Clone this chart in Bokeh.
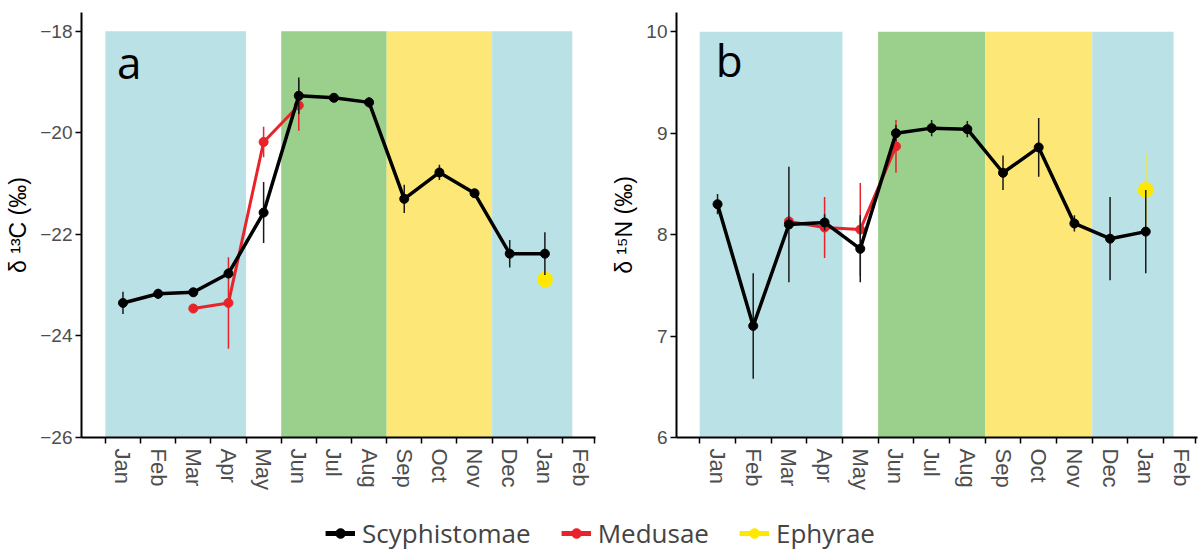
import numpy as np
from bokeh.plotting import figure
from bokeh.layouts import column, row
from bokeh.models import (Range1d, FixedTicker, CustomJSTickFormatter, Legend, LegendItem,
                          ColumnDataSource)
from bokeh.core.properties import value
from bokeh.embed import file_html
from bokeh.resources import INLINE

# ---------------- data ----------------
months = ["Jan", "Feb", "Mar", "Apr", "May", "Jun", "Jul", "Aug", "Sep", "Oct", "Nov", "Dec", "Jan", "Feb"]

# season shading (month boundaries)
season_left = [0, 5, 8, 11]
season_right = [4, 8, 11, 13.28]
season_colors = ["#B9E1E6", "#9ACF8C", "#FDE776", "#B9E1E6"]

# month index of each sample
scy_month = [0, 1, 2, 3, 4, 5, 6, 7, 8, 9, 10, 11, 12]
med_month = [2, 3, 4, 5]
eph_month = [12]

# panel a: d13C
scy_c = [-23.35, -23.17, -23.14, -22.77, -21.57, -19.27, -19.31, -19.40, -21.30, -20.78, -21.19, -22.38, -22.38]
scy_c_err = [0.22, 0.1, 0.06, 0.1, 0.6, 0.36, 0.08, 0.1, 0.28, 0.15, 0.05, 0.27, 0.42]
med_c = [-23.46, -23.35, -20.18, -19.46]
med_c_err = [0.08, 0.9, 0.3, 0.5]
eph_c = [-22.89]
eph_c_err = [0.0]

# panel b: d15N
scy_n = [8.30, 7.10, 8.10, 8.12, 7.86, 9.00, 9.05, 9.04, 8.61, 8.86, 8.11, 7.96, 8.03]
scy_n_err = [0.1, 0.52, 0.57, 0.08, 0.33, 0.08, 0.08, 0.08, 0.17, 0.29, 0.08, 0.41, 0.41]
med_n = [8.13, 8.07, 8.05, 8.87]
med_n_err = [0.05, 0.3, 0.46, 0.26]
eph_n = [8.44]
eph_n_err = [0.36]

BLACK = "#000000"
RED = "#E8232A"
YELLOW = "#FFE800"
TICK_GREY = "#4D4D4D"


def make_panel(ylo, yhi, yticks, ylabel, tag, tag_x, tag_y, scy, scy_e, med, med_e, eph, eph_e,
               fig_w, left_border, frame_w, x0, x1):
    p = figure(width=fig_w, height=500, output_backend="svg", toolbar_location=None,
               x_range=Range1d(x0, x1), y_range=Range1d(ylo, yhi),
               min_border_left=left_border, min_border_right=fig_w - left_border - frame_w,
               min_border_top=12, min_border_bottom=63)
    p.outline_line_color = None
    p.xgrid.visible = False
    p.ygrid.visible = False
    p.background_fill_color = "white"

    # seasons
    p.quad(left=season_left, right=season_right, bottom=[ylo] * 4, top=[yticks[-1]] * 4,
           fill_color=season_colors, line_color=None)

    def xs(mon):
        return np.array(mon, dtype=float) + 0.5

    # medusae
    mx = xs(med_month)
    m = np.array(med)
    me = np.array(med_e)
    p.segment(x0=mx, y0=m - me, x1=mx, y1=m + me, line_color=RED, line_width=1.5)
    p.line(mx, m, line_color=RED, line_width=3)
    p.scatter(mx, m, size=9, fill_color=RED, line_color=RED)

    # ephyrae
    ex = xs(eph_month)
    e = np.array(eph)
    ee = np.array(eph_e)
    p.segment(x0=ex, y0=e - ee, x1=ex, y1=e + ee, line_color=YELLOW, line_width=1.5)
    p.scatter(ex, e, size=15, fill_color=YELLOW, line_color=YELLOW)

    # scyphistomae
    sx = xs(scy_month)
    s = np.array(scy)
    se = np.array(scy_e)
    p.segment(x0=sx, y0=s - se, x1=sx, y1=s + se, line_color="#1a1a1a", line_width=1.5)
    p.line(sx, s, line_color=BLACK, line_width=3.5)
    p.scatter(sx, s, size=9, fill_color=BLACK, line_color=BLACK)

    # panel tag
    p.text(x=[tag_x], y=[tag_y], text=[tag], text_font=value("Open Sans"), text_font_size="44px",
           text_baseline="alphabetic", text_align="left", text_color="black")

    # x axis
    centers = [i + 0.5 for i in range(len(months))]
    bounds = list(range(len(months))) + [13.9]
    bounds = [b for b in bounds if b != 14]
    xa = p.xaxis[0]
    xa.ticker = FixedTicker(ticks=centers, minor_ticks=bounds)
    xa.formatter = CustomJSTickFormatter(args=dict(names=months),
                                         code="return names[Math.round(tick - 0.5)];")
    xa.major_tick_in = 0
    xa.major_tick_out = 0
    xa.minor_tick_in = 0
    xa.minor_tick_out = 6
    xa.minor_tick_line_color = "black"
    xa.minor_tick_line_width = 1.5
    xa.axis_line_width = 2
    xa.axis_line_color = "black"
    xa.major_label_orientation = "vertical"
    xa.major_label_standoff = 5
    xa.major_label_text_font = "Liberation Sans"
    xa.major_label_text_font_size = "22px"
    xa.major_label_text_color = TICK_GREY

    # y axis
    ya = p.yaxis[0]
    ya.ticker = FixedTicker(ticks=yticks)
    ya.formatter = CustomJSTickFormatter(code="return tick < 0 ? '\\u2212' + Math.abs(tick) : String(tick);")
    ya.major_tick_in = 0
    ya.major_tick_out = 6
    ya.major_tick_line_width = 1.5
    ya.major_tick_line_color = "black"
    ya.minor_tick_line_color = None
    ya.axis_line_width = 2
    ya.axis_line_color = "black"
    ya.major_label_standoff = 3
    ya.major_label_text_font = "Liberation Sans"
    ya.major_label_text_font_size = "19px"
    ya.major_label_text_color = TICK_GREY
    ya.axis_label = ylabel
    ya.axis_label_text_font = "Liberation Sans"
    ya.axis_label_text_font_size = "23px"
    ya.axis_label_text_font_style = "normal"
    ya.axis_label_text_color = "black"
    ya.axis_label_standoff = 6
    return p


pa = make_panel(-26, -17.63, [-26, -24, -22, -20, -18], "\u03b4 \u00b9\u00b3C (\u2030)", "a", 0.33, -18.6,
                scy_c, scy_c_err, med_c, med_c_err, eph_c, eph_c_err,
                600, 81, 514, -0.68, 13.94)
pb = make_panel(6, 10.19, [6, 7, 8, 9, 10], "\u03b4 \u00b9\u2075N (\u2030)", "b", 0.45, 9.72,
                scy_n, scy_n_err, med_n, med_n_err, eph_n, eph_n_err,
                600, 76, 521, -0.65, 13.95)

# legend strip
pl = figure(width=1200, height=51, output_backend="svg", toolbar_location=None,
            x_range=Range1d(0, 1), y_range=Range1d(0, 1),
            x_axis_location=None, y_axis_location=None,
            min_border=0)
pl.outline_line_color = None
pl.xgrid.visible = False
pl.ygrid.visible = False
series_names = ["Scyphistomae", "Medusae", "Ephyrae"]
series_colors = [BLACK, RED, YELLOW]
series_sizes = [12, 14, 14]
items = []
for name, col, sz in zip(series_names, series_colors, series_sizes):
    src = ColumnDataSource(data=dict(x=[-10, -9], y=[-10, -9]))
    l = pl.line("x", "y", source=src, line_color=col, line_width=5)
    s = pl.scatter("x", "y", source=src, size=sz, fill_color=col, line_color=col)
    items.append(LegendItem(label=name, renderers=[l, s]))
leg = Legend(items=items, orientation="horizontal", location="bottom_center",
             label_text_font="Open Sans", label_text_font_size="26px",
             glyph_width=30, glyph_height=24, label_standoff=7, spacing=30,
             padding=0, margin=0, border_line_color=None, background_fill_alpha=0)
pl.add_layout(leg, "center")

layout = column(row(pa, pb), pl)
with open("out.html", "w", encoding="utf-8") as f:
    f.write(file_html(layout, INLINE))
